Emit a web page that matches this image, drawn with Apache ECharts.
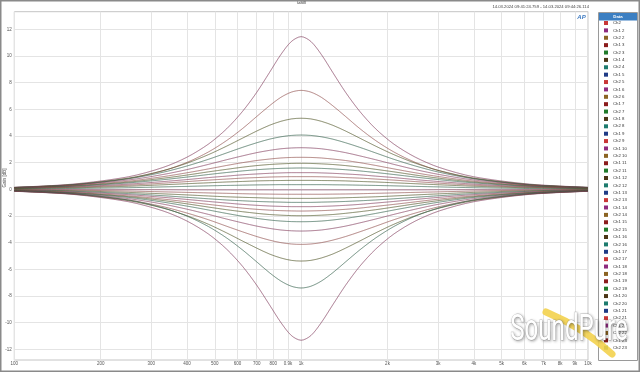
<!DOCTYPE html>
<html><head><meta charset="utf-8">
<script src="https://cdn.jsdelivr.net/npm/echarts@6/dist/echarts.min.js"></script>
<style>html,body{margin:0;padding:0;background:#fff}#c{width:640px;height:372px}</style>
</head><body><div id="c"></div>
<script>
const freqHz = [100, 160, 250, 330, 400, 475, 550, 625, 700, 775, 850, 925, 1000,
  1081, 1176, 1290, 1429, 1600, 1818, 2105, 2500, 3030, 4000, 6250, 10000];

// Gain curves (dB), from the highest boost to the deepest cut
const gainP11  = [0.15, 0.39, 0.94, 1.64, 2.41, 3.39, 4.54, 5.85, 7.27, 8.75, 10.11, 11.09, 11.45, 11.09, 10.11, 8.75, 7.27, 5.85, 4.54, 3.39, 2.41, 1.64, 0.94, 0.39, 0.15];
const gainP7   = [0.13, 0.33, 0.81, 1.39, 2.02, 2.80, 3.66, 4.56, 5.46, 6.26, 6.90, 7.29, 7.42, 7.29, 6.90, 6.26, 5.46, 4.56, 3.66, 2.80, 2.02, 1.39, 0.81, 0.33, 0.13];
const gainP5   = [0.14, 0.36, 0.84, 1.40, 1.96, 2.60, 3.24, 3.84, 4.37, 4.80, 5.10, 5.28, 5.33, 5.28, 5.10, 4.80, 4.37, 3.84, 3.24, 2.60, 1.96, 1.40, 0.84, 0.36, 0.14];
const gainP4   = [0.14, 0.34, 0.79, 1.28, 1.75, 2.25, 2.73, 3.15, 3.49, 3.76, 3.94, 4.04, 4.07, 4.04, 3.94, 3.76, 3.49, 3.15, 2.73, 2.25, 1.75, 1.28, 0.79, 0.34, 0.14];
const gainP3   = [0.13, 0.31, 0.70, 1.11, 1.48, 1.87, 2.22, 2.51, 2.75, 2.92, 3.04, 3.10, 3.12, 3.10, 3.04, 2.92, 2.75, 2.51, 2.22, 1.87, 1.48, 1.11, 0.70, 0.31, 0.13];
const gainP24  = [0.11, 0.27, 0.61, 0.95, 1.24, 1.53, 1.79, 2.00, 2.16, 2.27, 2.35, 2.39, 2.40, 2.39, 2.35, 2.27, 2.16, 2.00, 1.79, 1.53, 1.24, 0.95, 0.61, 0.27, 0.11];
const gainP195 = [0.10, 0.25, 0.54, 0.83, 1.07, 1.31, 1.50, 1.66, 1.78, 1.86, 1.91, 1.94, 1.95, 1.94, 1.91, 1.86, 1.78, 1.66, 1.50, 1.31, 1.07, 0.83, 0.54, 0.25, 0.10];
const gainP16  = [0.09, 0.22, 0.48, 0.72, 0.92, 1.11, 1.26, 1.38, 1.47, 1.53, 1.57, 1.59, 1.60, 1.59, 1.57, 1.53, 1.47, 1.38, 1.26, 1.11, 0.92, 0.72, 0.48, 0.22, 0.09];
const gainP125 = [0.08, 0.18, 0.39, 0.58, 0.73, 0.88, 0.99, 1.09, 1.15, 1.20, 1.23, 1.25, 1.25, 1.25, 1.23, 1.20, 1.15, 1.09, 0.99, 0.88, 0.73, 0.58, 0.39, 0.18, 0.08];
const gainP095 = [0.06, 0.15, 0.31, 0.46, 0.58, 0.69, 0.77, 0.84, 0.88, 0.92, 0.94, 0.95, 0.95, 0.95, 0.94, 0.92, 0.88, 0.84, 0.77, 0.69, 0.58, 0.46, 0.31, 0.15, 0.06];
const gainP067 = [0.05, 0.11, 0.23, 0.34, 0.42, 0.49, 0.55, 0.59, 0.63, 0.65, 0.66, 0.67, 0.67, 0.67, 0.66, 0.65, 0.63, 0.59, 0.55, 0.49, 0.42, 0.34, 0.23, 0.11, 0.05];
const gainP035 = [0.02, 0.06, 0.12, 0.18, 0.22, 0.26, 0.29, 0.31, 0.33, 0.34, 0.35, 0.35, 0.35, 0.35, 0.35, 0.34, 0.33, 0.31, 0.29, 0.26, 0.22, 0.18, 0.12, 0.06, 0.02];
const gainZero = [-0.03, -0.03, -0.03, -0.03, -0.04, -0.04, -0.04, -0.04, -0.04, -0.04, -0.04, -0.04, -0.04, -0.04, -0.04, -0.04, -0.04, -0.04, -0.04, -0.04, -0.04, -0.03, -0.03, -0.03, -0.03];
const gainN037 = [-0.03, -0.06, -0.13, -0.19, -0.23, -0.27, -0.30, -0.33, -0.35, -0.36, -0.37, -0.37, -0.37, -0.37, -0.37, -0.36, -0.35, -0.33, -0.30, -0.27, -0.23, -0.19, -0.13, -0.06, -0.03];
const gainN068 = [-0.05, -0.11, -0.23, -0.34, -0.42, -0.50, -0.56, -0.60, -0.63, -0.66, -0.67, -0.68, -0.68, -0.68, -0.67, -0.66, -0.63, -0.60, -0.56, -0.50, -0.42, -0.34, -0.23, -0.11, -0.05];
const gainN098 = [-0.06, -0.15, -0.32, -0.48, -0.60, -0.71, -0.80, -0.86, -0.91, -0.94, -0.96, -0.98, -0.98, -0.98, -0.96, -0.94, -0.91, -0.86, -0.80, -0.71, -0.60, -0.48, -0.32, -0.15, -0.06];
const gainN13  = [-0.08, -0.19, -0.40, -0.60, -0.76, -0.91, -1.03, -1.13, -1.20, -1.25, -1.28, -1.30, -1.30, -1.30, -1.28, -1.25, -1.20, -1.13, -1.03, -0.91, -0.76, -0.60, -0.40, -0.19, -0.08];
const gainN163 = [-0.09, -0.23, -0.49, -0.73, -0.94, -1.13, -1.28, -1.41, -1.50, -1.56, -1.60, -1.62, -1.63, -1.62, -1.60, -1.56, -1.50, -1.41, -1.28, -1.13, -0.94, -0.73, -0.49, -0.23, -0.09];
const gainN198 = [-0.10, -0.26, -0.55, -0.84, -1.09, -1.33, -1.53, -1.68, -1.80, -1.89, -1.94, -1.97, -1.98, -1.97, -1.94, -1.89, -1.80, -1.68, -1.53, -1.33, -1.09, -0.84, -0.55, -0.26, -0.10];
const gainN243 = [-0.11, -0.28, -0.61, -0.96, -1.26, -1.55, -1.81, -2.02, -2.18, -2.30, -2.38, -2.42, -2.43, -2.42, -2.38, -2.30, -2.18, -2.02, -1.81, -1.55, -1.26, -0.96, -0.61, -0.28, -0.11];
const gainN313 = [-0.13, -0.31, -0.70, -1.11, -1.49, -1.88, -2.23, -2.52, -2.76, -2.93, -3.05, -3.11, -3.13, -3.11, -3.05, -2.93, -2.76, -2.52, -2.23, -1.88, -1.49, -1.11, -0.70, -0.31, -0.13];
const gainN413 = [-0.14, -0.35, -0.80, -1.30, -1.78, -2.28, -2.77, -3.19, -3.54, -3.81, -4.00, -4.10, -4.13, -4.10, -4.00, -3.81, -3.54, -3.19, -2.77, -2.28, -1.78, -1.30, -0.80, -0.35, -0.14];
const gainN538 = [-0.14, -0.36, -0.85, -1.41, -1.98, -2.62, -3.27, -3.88, -4.41, -4.85, -5.15, -5.33, -5.38, -5.33, -5.15, -4.85, -4.41, -3.88, -3.27, -2.62, -1.98, -1.41, -0.85, -0.36, -0.14];
const gainN74  = [-0.13, -0.33, -0.80, -1.39, -2.01, -2.79, -3.65, -4.55, -5.44, -6.25, -6.88, -7.27, -7.40, -7.27, -6.88, -6.25, -5.44, -4.55, -3.65, -2.79, -2.01, -1.39, -0.80, -0.33, -0.13];
const gainN113 = [-0.15, -0.38, -0.93, -1.62, -2.38, -3.35, -4.49, -5.78, -7.19, -8.65, -9.99, -10.97, -11.32, -10.97, -9.99, -8.65, -7.19, -5.78, -4.49, -3.35, -2.38, -1.62, -0.93, -0.38, -0.15];

const curves = [gainP11, gainP7, gainP5, gainP4, gainP3, gainP24, gainP195, gainP16, gainP125, gainP095, gainP067, gainP035,
  gainZero, gainN037, gainN068, gainN098, gainN13, gainN163, gainN198, gainN243, gainN313, gainN413, gainN538, gainN74, gainN113];

// Axis ticks
const xTickHz = [100, 200, 300, 400, 500, 600, 700, 800, 900, 1000, 2000, 3000, 4000, 5000, 6000, 7000, 8000, 9000, 10000];
const xTickLabels = ['100', '200', '300', '400', '500', '600', '700', '800', '0.9k', '1k', '2k', '3k', '4k', '5k', '6k', '7k', '8k', '9k', '10k'];
const yTicks = [-12, -10, -8, -6, -4, -2, 0, 2, 4, 6, 8, 10, 12];

const titleText = 'Gain';
const timeText = '14.03.2024 09:41:24.759 - 14.03.2024 09:44:26.114';
const xName = 'Frequency [Hz]';
const yName = 'Gain [dB]';

const palette = ['#1f3b86', '#c83737', '#8e2a7e', '#8b6423', '#8b1c1c', '#1f7a2a', '#4b3516', '#1d7b6e'];
const FONT = 'Liberation Sans, Arial, sans-serif';

// Series: every setting measured on Ch1 and Ch2
const series = [];
const seriesNames = [];
curves.forEach((arr, k) => {
  ['Ch1', 'Ch2'].forEach(ch => {
    const name = k === 0 ? ch : ch + ' ' + (k + 1);
    seriesNames.push(name);
    const idx = series.length;
    series.push({
      name: name,
      type: 'line',
      symbol: 'none',
      showSymbol: false,
      smooth: 0.3,
      silent: true,
      color: palette[idx % palette.length],
      lineStyle: { width: 0.8, opacity: 0.45 },
      data: freqHz.map((f, j) => [Math.log10(f), arr[j]])
    });
  });
});
const legendNames = seriesNames.slice(1, 46);

const xTickLog = xTickHz.map(f => Math.log10(f));
function xLabel(v) {
  for (let i = 0; i < xTickLog.length; i++) if (Math.abs(xTickLog[i] - v) < 1e-6) return xTickLabels[i];
  return '';
}

const chart = echarts.init(document.getElementById('c'), null, { renderer: 'canvas' });
chart.setOption({
  animation: false,
  backgroundColor: '#ffffff',
  grid: { left: 14.3, right: 52, top: 11.7, bottom: 12, show: true, borderColor: '#c4c4c4', borderWidth: 1, containLabel: false, outerBoundsMode: 'none' },
  xAxis: {
    type: 'value', min: 2, max: 4,
    axisLine: { show: false }, axisTick: { show: false, customValues: xTickLog },
    axisLabel: { customValues: xTickLog, formatter: xLabel, fontSize: 4.5, color: '#555', margin: 1.5, fontFamily: FONT, hideOverlap: false },
    splitLine: { show: true, lineStyle: { color: '#e4e4e4', width: 1 } },
    name: xName, nameLocation: 'middle', nameGap: 5, nameTextStyle: { fontSize: 4.2, color: '#555', fontFamily: FONT }
  },
  yAxis: {
    type: 'value', min: -12.8, max: 13.32,
    axisLine: { show: false }, axisTick: { show: false, customValues: yTicks },
    axisLabel: { customValues: yTicks, fontSize: 4.5, color: '#555', margin: 2.5, fontFamily: FONT },
    splitLine: { show: true, lineStyle: { color: '#e4e4e4', width: 1 } }
  },
  legend: {
    data: legendNames, orient: 'vertical', left: 604, top: 21, padding: 0,
    itemWidth: 4, itemHeight: 4, itemGap: 3.38, icon: 'rect', selectedMode: false,
    textStyle: { fontSize: 4.3, color: '#333', lineHeight: 4, fontFamily: FONT }
  },
  graphic: [
    { type: 'rect', shape: { x: 0.75, y: 0.75, width: 638.5, height: 370.5 }, style: { fill: 'none', stroke: '#8a8a8a', lineWidth: 1.5 }, z: 50, silent: true },
    { type: 'rect', shape: { x: 598.5, y: 12.5, width: 39, height: 348 }, style: { fill: '#fff', stroke: '#9a9a9a', lineWidth: 1 }, z: -1, silent: true },
    { type: 'rect', shape: { x: 599, y: 13, width: 38, height: 7.5 }, style: { fill: '#3c7fc2' }, z: 1, silent: true },
    { type: 'text', x: 618, y: 16.8, style: { text: 'Data', fill: '#fff', fontSize: 4.3, fontFamily: FONT, fontWeight: 'bold', align: 'center', verticalAlign: 'middle' }, z: 2, silent: true },
    { type: 'text', x: 301.5, y: 3, style: { text: titleText, fill: '#444', fontSize: 4.5, fontFamily: FONT, align: 'center', verticalAlign: 'middle' }, silent: true },
    { type: 'text', x: 589, y: 7.3, style: { text: timeText, fill: '#444', fontSize: 4.2, fontFamily: FONT, align: 'right', verticalAlign: 'middle' }, silent: true },
    { type: 'text', x: 4.5, y: 178, rotation: Math.PI / 2, style: { text: yName, fill: '#555', fontSize: 4.5, fontFamily: FONT, align: 'center', verticalAlign: 'middle' }, silent: true },
    { type: 'text', x: 581.5, y: 17.5, style: { text: 'AP', fill: '#3a78c0', fontSize: 6, fontStyle: 'italic', fontWeight: 'bold', fontFamily: FONT, align: 'center', verticalAlign: 'middle' }, silent: true },
    { type: 'bezierCurve', shape: { x1: 546, y1: 312, x2: 612, y2: 354, cpx1: 584, cpy1: 328 }, style: { fill: 'none', stroke: '#f3d24e', lineWidth: 7, lineCap: 'round', opacity: 0.9 }, z: 60, silent: true },
    { type: 'text', x: 569, y: 331, scaleX: 0.67, originX: 0, originY: 0,
      style: { text: 'SoundPure', fill: '#ffffff', fontSize: 36, fontFamily: 'Liberation Sans Narrow, Roboto, sans-serif', align: 'center', verticalAlign: 'middle',
        stroke: 'rgba(150,150,150,0.55)', lineWidth: 0.8, textShadowColor: 'rgba(0,0,0,0.35)', textShadowBlur: 3, textShadowOffsetX: 1, textShadowOffsetY: 1 }, z: 61, silent: true }
  ],
  series: series
});
</script>
</body></html>
